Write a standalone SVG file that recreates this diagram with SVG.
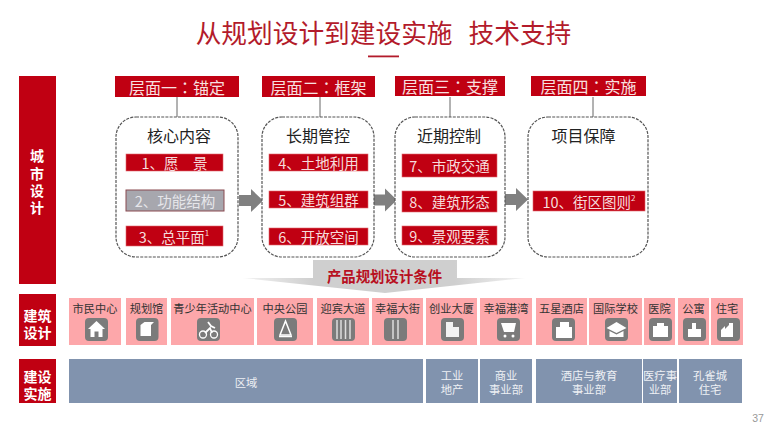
<svg xmlns="http://www.w3.org/2000/svg" width="770" height="434" viewBox="0 0 770 434">
<style>
text{font-family:"Noto Sans CJK SC","Liberation Sans",sans-serif;text-anchor:middle;dominant-baseline:central}
.r{fill:#c00012}
.hd{font-size:16px;fill:#f8e0e0}
.tc{font-family:"Noto Sans CJK TC",sans-serif}
.box{fill:#fff;stroke:#555;stroke-width:1.2;stroke-dasharray:3 1.2}
.bt{font-size:16px;fill:#222}
.it{fill:#c00012;stroke:#e06a70;stroke-width:.6}
.itt{font-size:14.500px;fill:#f6dcdc}
.side{font-size:14px;fill:#fff;font-weight:700}
.cell{fill:#fda7aa}
.ct{font-size:11.200px;fill:#333}
.ic{fill:#7b7b7b}
.g{fill:#fff}
.bar{fill:#8193ae}
.bart{font-size:11.300px;fill:#eef0f4}
</style>
<defs>
<linearGradient id="sp" x1="0" x2="1" y1="0" y2="0"><stop offset="0" stop-color="#f2f2f2"/><stop offset=".25" stop-color="#cfcfcf"/><stop offset=".75" stop-color="#cfcfcf"/><stop offset="1" stop-color="#f2f2f2"/></linearGradient>
<path id="ar" d="M0 -5.500H12V-11.500L24 0L12 11.500V5.500H0Z" fill="#808080"/>
</defs>
<g id="title"><text x="383.500" y="31" font-size="25.700" fill="#b31b2b">从规划设计到建设实施<tspan dx="16">技术支持</tspan></text><rect x="368" y="55.500" width="31" height="1.800" fill="#b31b2b"/></g>
<g id="connectors">
<path d="M177 97V117M320 97V117M450 97V117M593 97V117" stroke="#666" stroke-width="1" fill="none"/>
<use href="#ar" x="239" y="200.500"/><use href="#ar" x="373" y="200"/><use href="#ar" x="504" y="199.500"/>
</g>
<g id="side-city"><rect class="r" x="19" y="76" width="37" height="208"/><text class="side" x="37" y="155">城</text><text class="side" x="37" y="172.500">市</text><text class="side" x="37" y="190">设</text><text class="side" x="37" y="207">计</text></g>
<g id="side-arch"><rect class="r" x="19" y="294" width="37" height="52"/><text class="side" x="37.500"><tspan x="37.500" y="314.500">建筑</tspan><tspan x="37.500" y="332">设计</tspan></text></g>
<g id="side-build"><rect class="r" x="19" y="359" width="37" height="44"/><text class="side" x="37.500"><tspan x="37.500" y="375.500">建设</tspan><tspan x="37.500" y="393">实施</tspan></text></g>
<g id="h1"><rect class="r" x="115" y="76" width="124" height="21"/><text class="hd" x="177" y="86.500">层面一<tspan class="tc">：</tspan>锚定</text></g>
<g id="h2"><rect class="r" x="262" y="76" width="113" height="21"/><text class="hd" x="318.500" y="86.500">层面二<tspan class="tc">：</tspan>框架</text></g>
<g id="h3"><rect class="r" x="395" y="76" width="110" height="20"/><text class="hd" x="450" y="86">层面三<tspan class="tc">：</tspan>支撑</text></g>
<g id="h4"><rect class="r" x="531" y="76" width="115" height="20"/><text class="hd" x="588.500" y="86">层面四<tspan class="tc">：</tspan>实施</text></g>
<g id="b1"><rect class="box" x="116" y="117" width="122" height="140" rx="20"/><text class="bt" x="179" y="134.500">核心内容</text></g>
<g id="b2"><rect class="box" x="262" y="117" width="112" height="140" rx="20"/><text class="bt" x="318" y="134.500">长期管控</text></g>
<g id="b3"><rect class="box" x="395" y="117" width="110" height="140" rx="20"/><text class="bt" x="449" y="134.500">近期控制</text></g>
<g id="b4"><rect class="box" x="528" y="117" width="120" height="140" rx="20"/><text class="bt" x="583.500" y="135">项目保障</text></g>
<g id="i1"><rect class="it" x="126" y="154" width="97" height="17"/><text class="itt" x="174.500" y="162">1、愿　景</text></g>
<g id="i2"><rect x="126" y="190" width="98" height="21" fill="#a7a7ae" stroke="#8a4a50" stroke-width="1"/><text class="itt" x="175" y="200.500" style="fill:#e6e6ea">2、功能结构</text></g>
<g id="i3"><rect class="it" x="126" y="226" width="97" height="20"/><text class="itt" x="174" y="236">3、总平面<tspan font-size="8" dy="-4">1</tspan></text></g>
<g id="i4"><rect class="it" x="269" y="154" width="99" height="17"/><text class="itt" x="318.500" y="162">4、土地利用</text></g>
<g id="i5"><rect class="it" x="269" y="191" width="99" height="17"/><text class="itt" x="318.500" y="199">5、建筑组群</text></g>
<g id="i6"><rect class="it" x="269" y="228" width="99" height="17"/><text class="itt" x="318.500" y="236">6、开放空间</text></g>
<g id="i7"><rect class="it" x="402" y="154" width="95" height="23"/><text class="itt" x="449.500" y="165">7、市政交通</text></g>
<g id="i8"><rect class="it" x="402" y="191" width="95" height="21"/><text class="itt" x="449.500" y="201.500">8、建筑形态</text></g>
<g id="i9"><rect class="it" x="402" y="226" width="95" height="19"/><text class="itt" x="449.500" y="235.500">9、景观要素</text></g>
<g id="i10"><rect class="it" x="533" y="191" width="112" height="20"/><text class="itt" x="589" y="201">10、街区图则<tspan font-size="8" dy="-4">2</tspan></text></g>
<g id="banner"><path d="M243 278H313V260H457V278H525L385 293Z" fill="url(#sp)"/><text x="384.500" y="275" font-size="14.400" font-weight="700" fill="#b8101f">产品规划设计条件</text></g>
<g id="c1"><rect class="cell" x="69" y="298" width="52" height="47"/><text class="ct" x="95" y="308">市民中心</text><rect class="ic" x="85" y="318" width="23" height="23" rx="4"/><path class="g" d="M96.500 321L105 329H102.500V337H98.500V331.500H94.500V337H90.500V329H88Z"/></g>
<g id="c2"><rect class="cell" x="126" y="298" width="41" height="47"/><text class="ct" x="146.500" y="308">规划馆</text><rect class="ic" x="136" y="318" width="22.500" height="23" rx="4"/><path class="g" d="M140.500 325L144.500 322H154L151 325V336H140.500Z"/></g>
<g id="c3"><rect class="cell" x="171" y="298" width="83" height="47"/><text class="ct" x="212.500" y="308">青少年活动中心</text><rect class="ic" x="197" y="318" width="23" height="23" rx="4"/><path d="M208 322l3 4 4 2M205 333l5-5 2 5" stroke="#fff" stroke-width="1.800" fill="none"/><circle cx="203" cy="334.500" r="3.500" fill="none" stroke="#fff" stroke-width="1.300"/><circle cx="214" cy="334.500" r="3.500" fill="none" stroke="#fff" stroke-width="1.300"/></g>
<g id="c4"><rect class="cell" x="257" y="298" width="56" height="47"/><text class="ct" x="285" y="308">中央公园</text><rect class="ic" x="274" y="318" width="23" height="23" rx="4"/><path d="M285.500 321L280 335H291Z" fill="none" stroke="#fff" stroke-width="1.500"/><path d="M279 336.500H292" stroke="#fff" stroke-width="1.500"/></g>
<g id="c5"><rect class="cell" x="317" y="298" width="52" height="47"/><text class="ct" x="343" y="308">迎宾大道</text><rect class="ic" x="332" y="318" width="23" height="23" rx="4"/><path d="M337 320V339M341 320V339M345.500 320V339M350 320V339" stroke="#ddd" stroke-width="1.500"/></g>
<g id="c6"><rect class="cell" x="372" y="298" width="51" height="47"/><text class="ct" x="397.500" y="308">幸福大街</text><rect class="ic" x="384" y="318" width="23" height="23" rx="4"/><path d="M393 320V339M398 320V339" stroke="#ddd" stroke-width="1.500"/></g>
<g id="c7"><rect class="cell" x="426" y="298" width="51" height="47"/><text class="ct" x="451.500" y="308">创业大厦</text><rect class="ic" x="441" y="318" width="23" height="23" rx="4"/><path class="g" d="M446 322H453V327H459V337H446Z" opacity=".9"/></g>
<g id="c8"><rect class="cell" x="480" y="298" width="52" height="47"/><text class="ct" x="506" y="308">幸福港湾</text><rect class="ic" x="497" y="318" width="23" height="23" rx="4"/><path class="g" d="M501 323H516L514 332H504Z"/><circle class="g" cx="505" cy="336" r="1.500"/><circle class="g" cx="513" cy="336" r="1.500"/></g>
<g id="c9"><rect class="cell" x="536" y="298" width="51" height="47"/><text class="ct" x="561.500" y="308">五星酒店</text><rect class="ic" x="552" y="318" width="23" height="23" rx="4"/><path class="g" d="M556 327H560V322H569V327H572V338H556Z"/></g>
<g id="c10"><rect class="cell" x="589" y="298" width="53" height="47"/><text class="ct" x="615.500" y="308">国际学校</text><rect class="ic" x="605" y="318" width="23" height="23" rx="4"/><path class="g" d="M616.500 322L626.500 328L616.500 333L606.500 328ZM609.500 331L616.500 334.500L623.500 331V337H609.500Z"/></g>
<g id="c11"><rect class="cell" x="644" y="298" width="31" height="47"/><text class="ct" x="659.500" y="308">医院</text><rect class="ic" x="649" y="318" width="23" height="23" rx="4"/><path class="g" d="M653 326H657V323H664V326H668V337H653Z"/></g>
<g id="c12"><rect class="cell" x="678" y="298" width="31" height="47"/><text class="ct" x="693.500" y="308">公寓</text><rect class="ic" x="683" y="318" width="23" height="23" rx="4"/><path class="g" d="M688 329H692V323H696V329H701V337H688Z"/></g>
<g id="c13"><rect class="cell" x="711" y="298" width="32" height="47"/><text class="ct" x="727" y="308">住宅</text><rect class="ic" x="717" y="318" width="23" height="23" rx="4"/><path class="g" d="M721 330L725 326V329L729 325V323H733V337H721Z"/></g>
<g id="d1"><rect class="bar" x="69" y="359" width="354" height="44"/><text class="bart" x="246" y="382">区域</text></g>
<g id="d2"><rect class="bar" x="426" y="359" width="52" height="44"/><text class="bart"><tspan x="452" y="375">工业</tspan><tspan x="452" y="388.500">地产</tspan></text></g>
<g id="d3"><rect class="bar" x="480" y="359" width="52" height="44"/><text class="bart"><tspan x="506" y="375">商业</tspan><tspan x="506" y="388.500">事业部</tspan></text></g>
<g id="d4"><rect class="bar" x="536" y="359" width="106" height="44"/><text class="bart"><tspan x="589" y="375">酒店与教育</tspan><tspan x="589" y="388.500">事业部</tspan></text></g>
<g id="d5"><rect class="bar" x="643" y="359" width="34" height="44"/><text class="bart"><tspan x="660" y="375">医疗事</tspan><tspan x="660" y="388.500">业部</tspan></text></g>
<g id="d6"><rect class="bar" x="679" y="359" width="63" height="44"/><text class="bart"><tspan x="710" y="375">孔雀城</tspan><tspan x="710" y="388.500">住宅</tspan></text></g>
<text x="758" y="418" font-size="10.500" fill="#999" style="font-family:'Liberation Sans',sans-serif">37</text>
</svg>
